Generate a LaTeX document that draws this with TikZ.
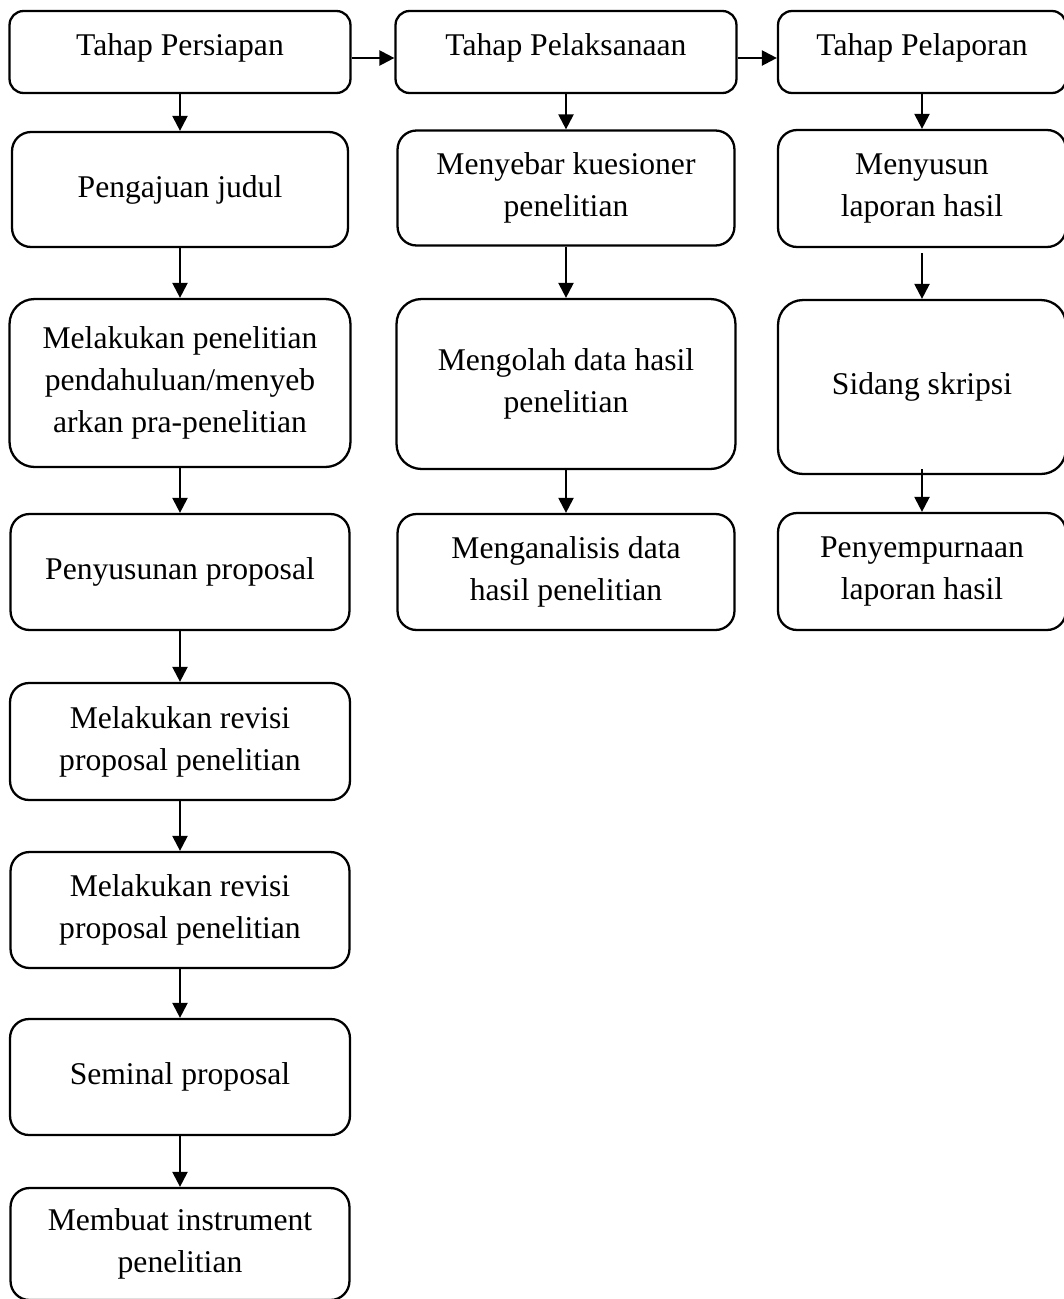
\documentclass[tikz,border=0pt]{standalone}
\usepackage{fontspec}
\setmainfont{Liberation Serif}
\usetikzlibrary{arrows.meta}

\begin{document}
\begin{tikzpicture}[x=0.02cm,y=-0.02cm,
  box/.style={draw, line width=1.3pt, rounded corners=#1, align=center, inner sep=0pt, font=\fontsize{18}{24}\selectfont},
  box/.default=0.38cm,
  tahap/.style={box=0.28cm, minimum height=1.64cm, text depth=9pt},
  arr/.style={line width=1.3pt, -{Triangle[length=8.5pt,width=8.5pt]}}]
\useasboundingbox (0,0) rectangle (1063,1299);
% tahap persiapan
\node[tahap, minimum width=6.82cm] (persiapan) at (180,52) {Tahap Persiapan};
\node[box, minimum width=6.72cm, minimum height=2.30cm] (judul) at (180,189.5) {Pengajuan judul};
\node[box=0.5cm, minimum width=6.82cm, minimum height=3.36cm] (pendahuluan) at (180,383) {Melakukan penelitian\\pendahuluan/menyeb\\arkan pra-penelitian};
\node[box, minimum width=6.78cm, minimum height=2.32cm] (penyusunan) at (180,572) {Penyusunan proposal};
\node[box, minimum width=6.80cm, minimum height=2.34cm] (revisia) at (180,741.5) {Melakukan revisi\\proposal penelitian};
\node[box, minimum width=6.78cm, minimum height=2.32cm] (revisib) at (180,910) {Melakukan revisi\\proposal penelitian};
\node[box, minimum width=6.80cm, minimum height=2.32cm] (seminal) at (180,1077) {Seminal proposal};
\node[box, minimum width=6.78cm, minimum height=2.24cm] (instrumen) at (180,1244) {Membuat instrument\\penelitian};
% tahap pelaksanaan
\node[tahap, minimum width=6.82cm] (pelaksanaan) at (566,52) {Tahap Pelaksanaan};
\node[box, minimum width=6.74cm, minimum height=2.30cm] (kuesioner) at (566,188) {Menyebar kuesioner\\penelitian};
\node[box=0.5cm, minimum width=6.78cm, minimum height=3.40cm] (mengolah) at (566,384) {Mengolah data hasil\\penelitian};
\node[box, minimum width=6.74cm, minimum height=2.32cm] (menganalisis) at (566,572) {Menganalisis data\\hasil penelitian};
% tahap pelaporan
\node[tahap, minimum width=5.76cm] (pelaporan) at (922,52) {Tahap Pelaporan};
\node[box, minimum width=5.76cm, minimum height=2.34cm] (menyusun) at (922,188.5) {Menyusun\\laporan hasil};
\node[box=0.5cm, minimum width=5.76cm, minimum height=3.48cm] (sidang) at (922,387) {Sidang skripsi};
\node[box, minimum width=5.76cm, minimum height=2.34cm] (penyempurnaan) at (922,571.5) {Penyempurnaan\\laporan hasil};
% panah
\draw[arr] ([yshift=-0.12cm]persiapan.east) -- ([yshift=-0.12cm]pelaksanaan.west);
\draw[arr] ([yshift=-0.12cm]pelaksanaan.east) -- ([yshift=-0.12cm]pelaporan.west);
\draw[arr] (persiapan) -- (judul);
\draw[arr] (judul) -- (pendahuluan);
\draw[arr] (pendahuluan) -- (penyusunan);
\draw[arr] (penyusunan) -- (revisia);
\draw[arr] (revisia) -- (revisib);
\draw[arr] (revisib) -- (seminal);
\draw[arr] (seminal) -- (instrumen);
\draw[arr] (pelaksanaan) -- (kuesioner);
\draw[arr] (kuesioner) -- (mengolah);
\draw[arr] (mengolah) -- (menganalisis);
\draw[arr] (pelaporan) -- (menyusun);
\draw[arr, shorten <=0.1cm] (menyusun) -- (sidang);
\draw[arr, shorten <=-0.12cm] (sidang) -- (penyempurnaan);
\end{tikzpicture}
\end{document}
